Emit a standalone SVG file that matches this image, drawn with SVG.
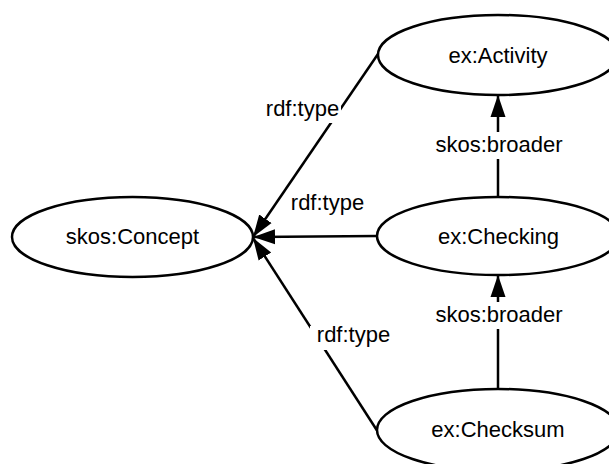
<svg xmlns="http://www.w3.org/2000/svg" width="609" height="464" viewBox="0 0 609 464">
<style>
.node ellipse{fill:#fff;stroke:#000;stroke-width:2.5}
text{font-family:"Liberation Sans",Arial,sans-serif;font-size:22px;fill:#000;text-anchor:middle}
.edge{stroke:#000;stroke-width:2.5;fill:none;marker-end:url(#arr)}
.lbg{fill:#fff}
</style>
<defs>
<marker id="arr" markerUnits="userSpaceOnUse" markerWidth="24" markerHeight="17" refX="22" refY="8" orient="auto">
<path d="M0,0.5 L22,8 L0,15.5 z" fill="#000"/>
</marker>
</defs>
<rect width="609" height="464" fill="#fff"/>
<g id="connectors">
<line class="edge" x1="378" y1="54" x2="253" y2="237"/>
<line class="edge" x1="377" y1="236" x2="253" y2="237"/>
<line class="edge" x1="378" y1="432" x2="253" y2="238"/>
<line class="edge" x1="498" y1="196" x2="498" y2="95"/>
<line class="edge" x1="498" y1="389" x2="498" y2="275"/>
<rect class="lbg" x="264" y="104" width="77" height="19"/>
<text x="302.5" y="116">rdf:type</text>
<text x="327.5" y="210">rdf:type</text>
<rect class="lbg" x="310" y="326" width="82" height="24"/>
<text x="353.5" y="342">rdf:type</text>
<rect class="lbg" x="433" y="132" width="132" height="27"/>
<text x="499" y="152">skos:broader</text>
<rect class="lbg" x="433" y="302" width="132" height="27"/>
<text x="499" y="322">skos:broader</text>
</g>
<g id="node-concept" class="node">
<ellipse cx="132.5" cy="237" rx="120.5" ry="40"/>
<text x="132.5" y="244">skos:Concept</text>
</g>
<g id="node-activity" class="node">
<ellipse cx="498" cy="55" rx="120" ry="40"/>
<text x="498" y="63">ex:Activity</text>
</g>
<g id="node-checking" class="node">
<ellipse cx="498" cy="236" rx="121" ry="39"/>
<text x="498.5" y="244">ex:Checking</text>
</g>
<g id="node-checksum" class="node">
<ellipse cx="498" cy="430" rx="121" ry="41"/>
<text x="498" y="437">ex:Checksum</text>
</g>
</svg>
